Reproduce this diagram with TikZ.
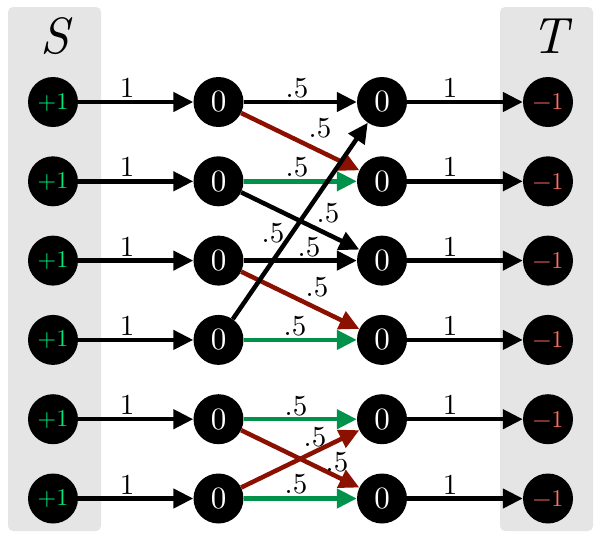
\documentclass[tikz,border=0pt]{standalone}
\usepackage{fontspec}
\setmainfont{lmroman10-regular.otf}[ItalicFont=lmroman10-italic.otf]
\usetikzlibrary{arrows.meta}
\definecolor{boxgray}{RGB}{229,229,229}
\definecolor{srcgreen}{RGB}{0,230,120}
\definecolor{sinkred}{RGB}{255,110,100}
\definecolor{edgered}{RGB}{140,16,0}
\definecolor{edgegreen}{RGB}{0,145,75}
\begin{document}
\begin{tikzpicture}[x=1pt,y=-1pt,
  vtx/.style={circle,fill=black,minimum size=50pt,inner sep=0pt},
  srcv/.style={vtx,text=srcgreen,font=\fontsize{24}{24}\selectfont},
  midv/.style={vtx,text=white,font=\fontsize{31}{31}\selectfont},
  sinkv/.style={vtx,text=sinkred,font=\fontsize{24}{24}\selectfont},
  edge/.style={line width=4.5pt,-{Triangle[length=20pt,width=19pt]}},
  redge/.style={edge,draw=edgered,edgered},
  gedge/.style={edge,draw=edgegreen,edgegreen},
  lbl/.style={font=\fontsize{29}{29}\selectfont,inner sep=0pt},
  bigl/.style={font=\fontsize{51}{51}\selectfont\itshape,inner sep=0pt},
  panel/.style={fill=boxgray,rounded corners=5pt}]
\useasboundingbox (0,0) rectangle (598,539);
\fill[white] (0,0) rectangle (598,539);
\fill[panel] (8,7) rectangle (101,531);
\fill[panel] (500,7) rectangle (593,531);
\node[bigl] (S) at (55,36) {S};
\node[bigl] (T) at (550,36) {T};
\foreach \i/\y in {1/102,2/181.3,3/260.6,4/339.9,5/419.2,6/498.5}{
  \node[srcv] (s\i) at (53,\y) {+1};
  \node[midv] (a\i) at (218.5,\y) {0};
  \node[midv] (b\i) at (382,\y) {0};
  \node[sinkv] (t\i) at (548,\y) {−1};
  \draw[edge] (s\i) -- (a\i);
  \draw[edge] (b\i) -- (t\i);
  \node[lbl] (ls\i) at (127,\y-14) {1};
  \node[lbl] (lt\i) at (450,\y-14) {1};
}
\draw[edge]  (a1) -- (b1);
\draw[redge] (a1) -- (b2);
\draw[gedge] (a2) -- (b2);
\draw[edge]  (a2) -- (b3);
\draw[edge]  (a3) -- (b3);
\draw[redge] (a3) -- (b4);
\draw[edge]  (a4) -- (b1);
\draw[gedge] (a4) -- (b4);
\draw[gedge] (a5) -- (b5);
\draw[redge] (a5) -- (b6);
\draw[redge] (a6) -- (b5);
\draw[gedge] (a6) -- (b6);
\node[lbl] (l11) at (297,88) {.5};
\node[lbl] (l12) at (320,128) {.5};
\node[lbl] (l22) at (297,167) {.5};
\node[lbl] (l23) at (328,213) {.5};
\node[lbl] (l33) at (309,247) {.5};
\node[lbl] (l34) at (317,287) {.5};
\node[lbl] (l41) at (273,233) {.5};
\node[lbl] (l44) at (295,326) {.5};
\node[lbl] (l55) at (296,406) {.5};
\node[lbl] (l65) at (315,437) {.5};
\node[lbl] (l56) at (337,462) {.5};
\node[lbl] (l66) at (296,484) {.5};
\end{tikzpicture}
\end{document}
